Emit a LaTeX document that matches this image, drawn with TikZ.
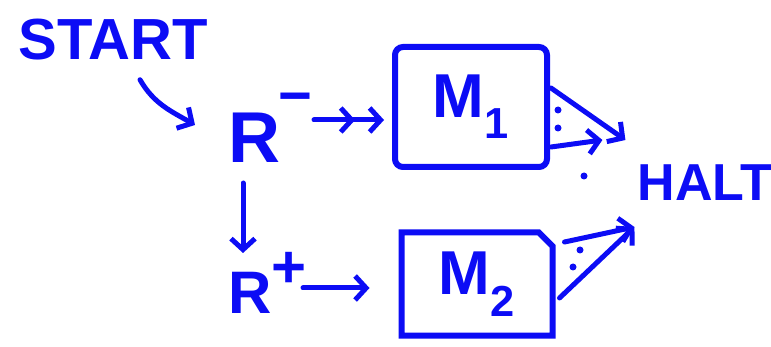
\documentclass[tikz,border=0pt]{standalone}
\usepackage{fontspec}
\setmainfont{Liberation Sans}
\usetikzlibrary{arrows.meta,shapes.misc}
\definecolor{ink}{RGB}{12,12,245}

\begin{document}
\begin{tikzpicture}[x=1pt,y=1pt,
 pen/.style={draw=ink,line width=5pt,line cap=round,line join=round,-{Straight Barb[length=11pt,width=24pt]}},
 twohead/.style={pen,-{Straight Barb[length=11pt,width=24pt,sep=12pt]Straight Barb[length=11pt,width=24pt]}},
 word/.style={text=ink,inner sep=0pt,font=\bfseries\fontsize{#1}{#1}\selectfont},
 box/.style={draw=ink,line width=6pt,inner sep=0pt,text=ink,font=\bfseries\fontsize{62}{62}\selectfont}]
 \useasboundingbox (0,0) rectangle (771,-347);
 \node[word=58] (start) at (113,-40) {START};
 \node[word=72,anchor=base west] (rminus) at (228,-163) {R\kern-2pt\raisebox{47pt}{\fontsize{58}{58}\selectfont −}};
 \node[word=60,anchor=base west] (rplus) at (228,-313) {R\raisebox{25pt}{\fontsize{60}{60}\selectfont +}};
 \node[box,rounded corners=8pt,minimum width=152pt,minimum height=120pt] (mone) at (471,-107) {M\textsubscript{1}};
 \node[box,chamfered rectangle,chamfered rectangle corners=north east,chamfered rectangle xsep=10pt,
  minimum width=151pt,minimum height=103pt] (mtwo) at (477,-284) {M\textsubscript{2}};
 \node[word=52] (halt) at (705,-183) {HALT};
 \draw[pen] ([shift={(27pt,-19pt)}]start.south) to[out=-60,in=150] ([shift={(-33pt,38pt)}]rminus.base west);
 \draw[twohead] ([shift={(86pt,43pt)}]rminus.base west) -- ([shift={(-8pt,-13pt)}]mone.west);
 \draw[pen] ([shift={(15pt,-20pt)}]rminus.base west) -- ([shift={(15pt,60pt)}]rplus.base west);
 \draw[pen] ([shift={(75pt,25pt)}]rplus.base west) -- ([shift={(-29pt,-4pt)}]mtwo.west);
 \draw[pen] ([shift={(1pt,19pt)}]mone.east) -- ([shift={(-12pt,43pt)}]halt.west);
 \draw[pen] ([shift={(1pt,-40pt)}]mone.east) -- ([shift={(-35pt,43pt)}]halt.west);
 \draw[pen] ([shift={(9pt,42pt)}]mtwo.east) -- ([shift={(-3pt,-44pt)}]halt.west);
 \draw[pen] ([shift={(4pt,-14pt)}]mtwo.east) -- ([shift={(-3pt,-44pt)}]halt.west);
 \foreach \p in {(558,-110),(558,-128),(584,-176),(580,-250),(573,-267)}
  \fill[ink] \p circle (3.5);
\end{tikzpicture}
\end{document}
